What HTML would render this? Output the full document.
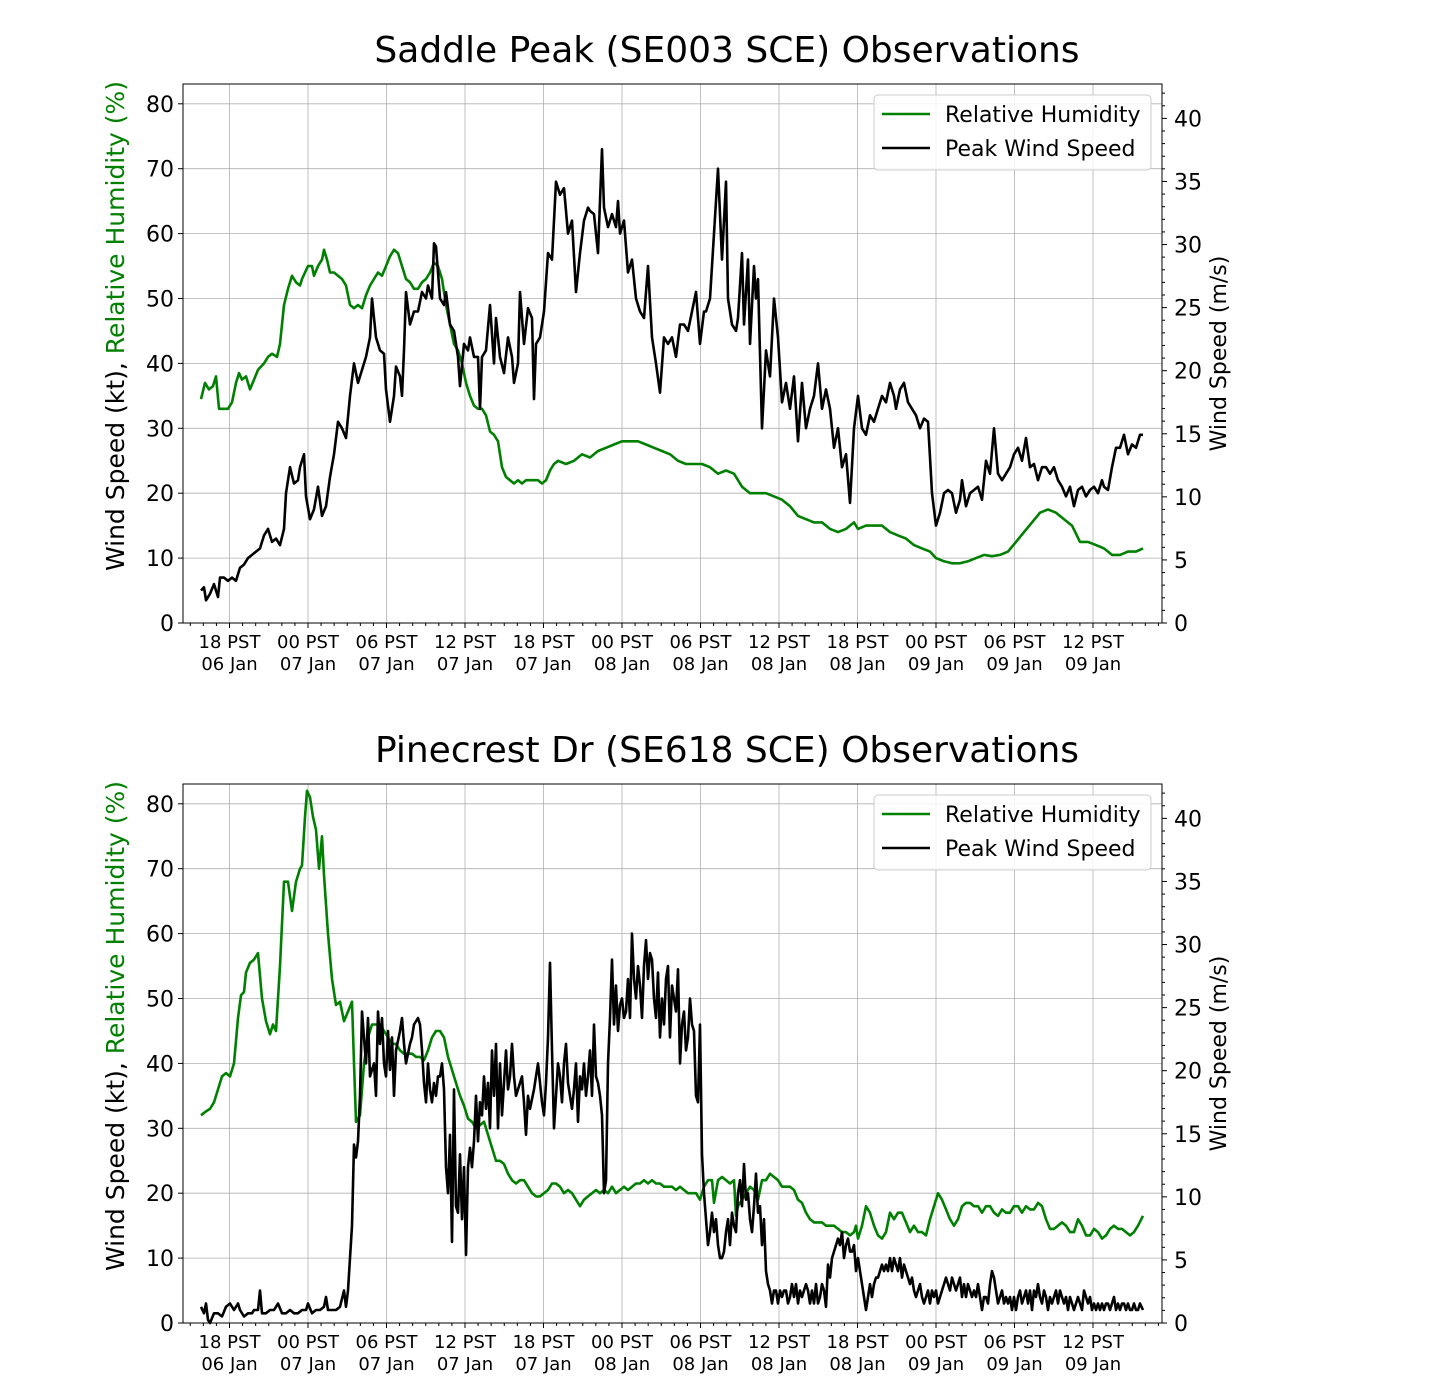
<!DOCTYPE html>
<html><head><meta charset="utf-8"><style>
html,body{margin:0;padding:0;background:#fff;}
svg{display:block;font-family:"DejaVu Sans","Liberation Sans",sans-serif;}
</style></head><body>
<svg id="s" width="1454" height="1400" xmlns="http://www.w3.org/2000/svg"></svg>
<script>
const rh1=[201,34.5,205,37,209,36,213,36.5,216,38,219,33,223,33,228,33,232,34,236,37,239,38.5,242,37.5,246,38,250,36,254,37.5,258,39,264,40,268,41,272,41.5,277,41,280,43,284,49,288,51.5,292,53.5,296,52.5,300,52,302,53,305,54,308,55,312,55,314,53.5,318,55,322,56,324,57.5,327,56,330,54,334,54,338,53.5,342,53,346,52,350,49,354,48.5,358,49,362,48.5,366,50.5,370,52,374,53,378,54,382,53.5,386,55,390,56.5,394,57.5,398,57,402,55,406,53,410,52.5,414,51.5,418,51.5,422,52.5,426,53,430,54,434,55.5,438,55,442,53,446,49,450,46,454,43,458,42,462,40,466,37,470,35,474,33.5,478,33,482,33,486,32,490,29.5,494,29,498,28,502,24,506,22.5,510,22,514,21.5,518,22,522,21.5,526,22,530,22,534,22,538,22,542,21.5,546,22,550,23.5,554,24.5,558,25,566,24.5,574,25,582,26,590,25.5,598,26.5,606,27,614,27.5,622,28,630,28,638,28,646,27.5,654,27,662,26.5,670,26,678,25,686,24.5,694,24.5,702,24.5,710,24,718,23,726,23.5,734,23,742,21,750,20,758,20,766,20,774,19.5,782,19,790,18,798,16.5,806,16,814,15.5,822,15.5,830,14.5,838,14,846,14.5,854,15.5,858,14.5,866,15,874,15,882,15,890,14,898,13.5,906,13,914,12,922,11.5,930,11,936,10,944,9.5,952,9.2,960,9.2,968,9.5,976,10,984,10.5,992,10.3,1000,10.5,1008,11,1016,12.5,1024,14,1032,15.5,1040,17,1048,17.5,1056,17,1064,16,1072,15,1080,12.5,1088,12.5,1096,12,1104,11.5,1112,10.5,1120,10.5,1128,11,1136,11,1143,11.5];
const w1=[201,5,204,5.5,206,3.5,210,4.5,214,6,218,4,220,7,224,7,228,6.5,232,7,236,6.5,240,8.5,244,9,248,10,252,10.5,256,11,260,11.5,264,13.5,268,14.5,272,12.5,276,13,280,12,284,14.5,286,20,290,24,294,21.5,298,22,300,24,304,26,306,19.5,310,16,314,17.5,318,21,322,16.5,326,18,330,22.5,334,26,338,31,342,30,346,28.5,350,35,354,40,358,37,362,39,366,41,370,44,372,50,376,44,380,42,384,41.5,386,36,390,31,394,35,396,39.5,400,38,402,35,404,42,406,51,410,46,414,48,418,48,422,51,426,50,428,52,432,50,434,58.5,436,58,440,50,444,49,446,51,450,46,454,45,458,41,460,36.5,464,43,468,42,470,44,474,41,478,41,480,33,482,41,486,42,490,49,494,40,496,47,500,41,504,38.5,508,44,512,41,514,37,518,40,520,51,524,43,528,48.5,532,47,534,34.5,536,43,540,44,544,48,548,57,552,56,556,68,560,66,564,67,568,60,572,62,576,51,580,57,584,62,588,64,590,63.5,594,63,598,57,602,73,604,64,608,61,612,63,616,61,618,65,620,60,624,62,628,54,632,56,636,50,640,48,644,47,648,55,652,44,656,40,660,35.5,664,44,668,43,672,44,676,41,680,46,684,46,688,45,692,48,696,51,700,43,704,48,706,48,710,50,714,60,718,70,722,56,726,68,728,50,732,46,736,45,738,47,742,57,744,46,748,56,750,43,754,55,756,50,758,53,762,30,766,42,770,38,774,50,778,44,782,34,786,37,790,33,794,38,798,28,802,37,806,30,810,33,814,35,818,40,822,33,826,36,830,33,834,27,838,30,842,24,846,26,850,18.5,854,30,858,35,862,30,866,29,870,32,874,31,878,33,882,35,886,34,890,37,894,35,896,33,900,36,904,37,908,34,912,33,916,32,920,30,924,31.5,928,31,932,20,936,15,940,17,944,20,948,20.5,952,20,956,17,960,19,962,22,966,18,970,20,974,20.5,978,21,982,19,986,25,990,23,994,30,998,23,1002,22,1006,23,1010,24,1014,26,1018,27,1022,25,1026,28.5,1030,24,1034,24.5,1038,22,1042,24,1046,24,1050,23,1054,24,1058,22,1062,21,1066,19.5,1070,21,1074,18,1078,20.5,1082,21,1086,19.5,1090,20.5,1094,21,1098,20,1102,22,1104,21,1108,20.5,1112,24,1116,27,1120,27,1124,29,1128,26,1132,27.5,1136,27,1140,29,1143,29];
const rh2=[201,32,205,32.5,210,33,214,34,218,36,222,38,226,38.5,230,38,234,40,238,47,241,50.5,244,51,246,54,250,55.5,254,56,258,57,262,50,266,46.5,270,44.5,273,46,276,45,280,55,284,68,288,68,292,63.5,296,68,300,70,302,70.5,305,78,307,82,310,81,313,78,316,76,319,70,322,75,324,69,328,60,332,53,336,49,340,49.5,344,46.5,348,48,352,49.5,354,40,356,31,360,32,364,40,368,44,372,46,376,46,380,46,384,45,388,44,392,43,396,43,400,42,404,41.5,408,41.5,412,41.5,416,41,420,41,424,40.5,428,42,432,44,436,45,440,45,444,44,448,41,452,39,456,37,460,35,464,33.5,468,31.5,472,31,476,30,480,30.5,484,31,488,29,492,27,496,25,500,25,504,24.5,508,23,512,22,516,21.5,520,22,524,22,528,21,532,20,536,19.5,540,19.5,544,20,548,20.5,552,21.5,556,21.5,560,21,564,20,568,20.5,572,20,576,19,580,18,584,19,588,19.5,592,20,596,20.5,600,20,604,20.5,608,20,612,21,616,20,620,20.5,624,21,628,20.5,632,21,636,21.5,640,21.5,644,22,648,21.5,652,22,656,21.5,660,21.5,664,21,668,21,672,21,676,20.5,680,21,684,20.5,688,20,692,20,696,20,700,19,704,21,708,22,712,22,714,18.5,718,22,722,22.5,726,22,730,21.5,734,22,736,16.5,738,18,742,19,746,20,750,21,754,20.5,758,19,762,22,766,22,770,23,774,22.5,778,22,782,21,786,21,790,21,794,20.5,798,19,802,18.5,806,17,810,16,814,15.5,818,15.5,822,15.5,826,15,830,15,834,15,838,14.5,842,14,846,14,850,13.5,854,14,856,15,858,13,862,15,866,18,870,17,874,15,878,13.5,882,13,886,14,890,17,894,16,898,17,902,17,906,15.5,910,14,914,15,918,14,922,14,926,13.5,930,16,934,18,938,20,942,19,946,17.5,950,16,954,15,958,16,962,18,966,18.5,970,18.5,974,18,978,18,982,17,986,18,990,18,994,17,998,16.5,1002,17.5,1006,17,1010,17,1014,18,1018,18,1022,17,1026,18,1030,17.5,1034,17.5,1038,18.5,1042,18,1046,16,1050,14.5,1054,14.5,1058,15,1062,15.5,1066,15,1070,14,1074,14,1078,16,1082,15,1086,13.5,1090,13.5,1094,14.5,1098,14,1102,13,1106,13.5,1110,14.5,1114,15,1118,14.5,1122,14.5,1126,14,1130,13.5,1134,14,1138,15,1143,16.5];
const w2=[201,2.5,204,1.5,206,3,208,0.5,210,0,214,1.5,218,1.5,222,1,226,2.5,230,3,234,2,238,3,240,2,244,1,248,1.5,252,1.5,254,2,258,2,260,5,262,1.5,266,1.5,270,2,274,2,278,3,282,1.5,286,1.5,290,2,294,1.5,298,1.5,302,2,306,2,308,3,312,1.5,316,2,320,2,324,2.5,326,4,328,2,332,2,336,2,340,2.5,344,5,346,2.5,348,5,350,10,352,15,354,27.5,356,25.5,358,28,360,35,362,48,366,40,368,47,370,38,374,40,376,35,378,48,380,43,382,47,384,40,386,38,388,45,390,39,392,44,394,35,396,42,400,45,402,47,404,43,406,40,410,43,412,44,414,46,418,47,420,46,422,42,424,37,426,34,428,40,430,36,432,34,434,37,436,35,438,38,440,38,442,40,444,36,446,24,448,20,450,29,452,12.5,454,36,456,18,458,17,460,26,462,16,464,24,466,10.5,468,24,470,27,472,24,474,28,476,35,478,28,480,34,482,32,484,38,486,33,488,37,490,30,492,42,494,35,496,43,498,30,500,40,502,32,504,37,506,42,508,36,510,38,512,43,514,38,516,35,518,36,520,37,522,38,524,34,526,29,528,35,530,33,534,36,538,40,540,37,542,34,544,32,546,37,548,44,550,55.5,552,42,554,30,556,35,558,40,560,38,562,34,564,40,566,43,568,37,570,35,572,33,574,36,576,40,578,31,580,38,582,36,584,40,586,35,588,38,590,42,592,35,594,46,596,38,598,37,600,35,602,32,604,20,606,22,608,40,610,47,612,56,614,46,616,52,618,45,620,49,622,50,624,47,626,48,628,53,630,47,632,60,634,53,636,50,638,55,640,52,642,47,644,55,646,59,648,53,650,57,652,56,654,50,656,47,658,54,660,44,662,50,664,46,666,53,668,55,670,44,672,52,674,50,676,48,678,54.5,680,40,682,46,684,48,686,42,688,44,690,50,692,46,694,45,696,35,698,34,700,46,702,26,704,20,706,16,708,12,710,14,712,17,714,14,716,16,718,12,720,10,722,10,724,11,726,14,728,16,730,12,732,17,734,15,736,14,738,20,740,22,742,18,744,24.5,746,19,748,20,750,16,752,14,754,18,756,23,758,17,760,18,762,12,764,16,766,8,768,6,770,5,772,3,774,5,776,5,778,3,780,5,782,4,784,5,786,5,788,3,790,4,792,6,794,4,796,6,798,3,800,5,802,4,804,5,806,6,808,5,810,3,812,5,814,3,816,6,818,3,820,4,822,6,824,5,826,2.5,828,9,830,7,832,10,834,11,836,12,838,13,840,12,842,14,844,10,846,12,848,13,850,11,852,11,854,12,856,8,858,10,860,8,862,6,864,4,866,2,868,4,870,6,872,4,874,6,876,7,878,7,880,8,882,9,884,8,886,9,888,8,890,10,892,8,894,10,896,9,898,8,900,10,902,7,904,9,906,8,908,7,910,6,912,7,914,5,916,4,918,5,920,6,922,4,924,3,926,4,928,5,930,3,932,5,934,4,936,5,938,3,940,4,942,5,944,6,946,7,948,6,950,5,952,7,954,6,956,5,958,6,960,7,962,4,964,6,966,4,968,6,970,5,972,4,974,5,976,4,978,6,980,4,982,2,984,4,986,4,988,3,990,6,992,8,994,7,996,5,998,3,1000,4,1002,5,1004,3,1006,4,1008,3,1010,4,1012,2,1014,4,1016,2,1018,4,1020,5,1022,3,1024,4,1026,5,1028,3,1030,5,1032,2,1034,5,1036,4,1038,6,1040,4,1042,3,1044,5,1046,4,1048,2,1050,4,1052,3,1054,4,1056,5,1058,3,1060,5,1062,4,1064,3,1066,4,1068,2,1070,4,1072,3,1074,2,1076,3,1078,4,1080,3,1082,2,1084,5,1086,4,1088,3,1090,4,1092,2,1094,3,1096,2,1098,3,1100,2,1102,3,1104,2,1106,3,1108,3,1110,2,1112,3,1114,4,1116,2,1118,3,1120,2,1122,3,1124,3,1126,2,1128,3,1130,2,1132,2,1134,3,1136,2,1138,2,1140,3,1143,2];
const L=183,R=1162,H=539,K=6.49;
const ticks=[["18 PST","06 Jan"],["00 PST","07 Jan"],["06 PST","07 Jan"],["12 PST","07 Jan"],["18 PST","07 Jan"],["00 PST","08 Jan"],["06 PST","08 Jan"],["12 PST","08 Jan"],["18 PST","08 Jan"],["00 PST","09 Jan"],["06 PST","09 Jan"],["12 PST","09 Jan"]];
let out="";
function pts(a,B){let s="";for(let i=0;i<a.length;i+=2)s+=a[i]+","+(B-a[i+1]*K).toFixed(1)+" ";return s;}
function panel(T,B,title,rh,w){
  out+=`<text x="727" y="${T-22}" font-size="36" text-anchor="middle">${title}</text>`;
  for(let i=0;i<12;i++){const x=229.5+i*78.5;out+=`<line x1="${x}" y1="${T}" x2="${x}" y2="${B}" stroke="#b0b0b0" stroke-width="0.8"/>`;}
  for(let v=10;v<=80;v+=10){const y=B-v*K;out+=`<line x1="${L}" y1="${y}" x2="${R}" y2="${y}" stroke="#b0b0b0" stroke-width="0.8"/>`;}
  out+=`<polyline points="${pts(rh,B)}" fill="none" stroke="#008000" stroke-width="2.6" stroke-linejoin="round"/>`;
  out+=`<polyline points="${pts(w,B)}" fill="none" stroke="#000" stroke-width="2.6" stroke-linejoin="round"/>`;
  out+=`<rect x="${L}" y="${T}" width="${R-L}" height="${B-T}" fill="none" stroke="#000" stroke-width="1"/>`;
  for(let v=0;v<=80;v+=10){const y=B-v*K;out+=`<line x1="${L-5}" y1="${y}" x2="${L}" y2="${y}" stroke="#000"/><text x="${L-9}" y="${y+8}" font-size="22" text-anchor="end">${v}</text>`;}
  for(let m=0;m<=42;m++){const y=B-m*1.94384*K;const maj=m%5==0;out+=`<line x1="${R}" y1="${y}" x2="${R+(maj?5:3)}" y2="${y}" stroke="#000"/>`;if(maj)out+=`<text x="${R+12}" y="${y+8}" font-size="22">${m}</text>`;}
  for(let k=-3;k<=75;k++){const x=229.5+k*78.5/6;if(x<L||x>R)continue;const maj=k%6==0;out+=`<line x1="${x}" y1="${B}" x2="${x}" y2="${B+(maj?5:3)}" stroke="#000"/>`;}
  ticks.forEach((t,i)=>{const x=229.5+i*78.5;out+=`<text x="${x}" y="${B+25}" font-size="18" text-anchor="middle">${t[0]}</text><text x="${x}" y="${B+47}" font-size="18" text-anchor="middle">${t[1]}</text>`;});
  const cy=(T+B)/2;
  out+=`<text transform="translate(124,${T+242}) rotate(-90)" font-size="25" text-anchor="middle">Wind Speed (kt), <tspan fill="#008000">Relative Humidity (%)</tspan></text>`;
  out+=`<text transform="translate(1226,${cy}) rotate(-90)" font-size="22" text-anchor="middle">Wind Speed (m/s)</text>`;
  out+=`<rect x="874" y="${T+11}" width="277" height="75" rx="4" fill="#fff" fill-opacity="0.85" stroke="#ccc"/>`;
  out+=`<line x1="882" y1="${T+30}" x2="930" y2="${T+30}" stroke="#008000" stroke-width="2.6"/><text x="945" y="${T+38}" font-size="22">Relative Humidity</text>`;
  out+=`<line x1="882" y1="${T+64}" x2="930" y2="${T+64}" stroke="#000" stroke-width="2.6"/><text x="945" y="${T+72}" font-size="22">Peak Wind Speed</text>`;
}
panel(84,623,"Saddle Peak (SE003 SCE) Observations",rh1,w1);
panel(784,1323,"Pinecrest Dr (SE618 SCE) Observations",rh2,w2);
document.getElementById("s").innerHTML=out;
</script>
</body></html>
